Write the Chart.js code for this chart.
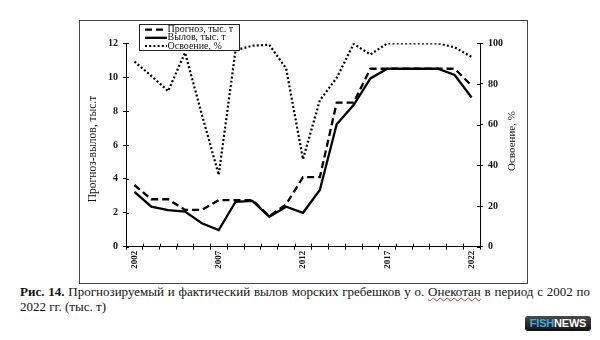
<!DOCTYPE html>
<html>
<head>
<meta charset="utf-8">
<script src="https://cdn.jsdelivr.net/npm/chart.js@4/dist/chart.umd.min.js"></script>
<style>
  html, body { margin: 0; padding: 0; background: #fff; }
  #page { position: relative; width: 600px; height: 340px; overflow: hidden; background: #fff; }
  #wrap { position: absolute; left: 79px; top: 20px; width: 448px; height: 263px; }
  #frame { position: absolute; left: 79px; top: 20px; width: 447px; height: 262px; border: 1px solid #444; pointer-events: none; }
  .cap { position: absolute; left: 20px; width: 570px; font-family: "Liberation Serif", "Times New Roman", serif; font-size: 13px; line-height: 15px; color: #111; white-space: nowrap; }
  #cap1 { top: 284px; text-align: justify; text-align-last: justify; white-space: normal; }
  #cap2 { top: 299px; }
  .sp { text-decoration: underline wavy #d33; text-decoration-thickness: 1px; }
  #logo { position: absolute; left: 525px; top: 316px; width: 66px; height: 15px; border-radius: 3px;
          background: linear-gradient(#4a4a4a, #111); font-family: "Liberation Sans", Arial, sans-serif;
          font-weight: bold; font-size: 11px; line-height: 15px; text-align: center; letter-spacing: -0.2px; }
  #logo .f { color: #3fa9e0; } #logo .n { color: #fff; }
</style>
</head>
<body>
<div id="page">
  <div id="wrap"><canvas id="c" width="448" height="263"></canvas></div>
  <div id="frame"></div>
  <div class="cap" id="cap1"><b>Рис. 14.</b> Прогнозируемый и фактический вылов морских гребешков у о. <span class="sp">Онекотан</span> в период с 2002 по</div>
  <div class="cap" id="cap2">2022 гг. (тыс. т)</div>
  <div id="logo"><span class="f">FISH</span><span class="n">NEWS</span></div>
</div>
<script>
const years = ['2002','2003','2004','2005','2006','2007','2008','2009','2010','2011','2012','2013','2014','2015','2016','2017','2018','2019','2020','2021','2022'];
const forecast = [3.64, 2.8, 2.8, 2.17, 2.17, 2.75, 2.75, 2.75, 1.8, 2.5, 4.1, 4.1, 8.5, 8.5, 10.5, 10.5, 10.5, 10.5, 10.5, 10.5, 9.5];
const catchTons = [3.24, 2.36, 2.16, 2.07, 1.38, 0.98, 2.65, 2.7, 1.77, 2.36, 2.0, 3.35, 7.22, 8.36, 9.93, 10.5, 10.5, 10.5, 10.5, 10.13, 8.8];
const utilization = [91, 84, 76.5, 95.4, 65, 35.3, 96.6, 98.8, 99.3, 87.6, 43, 72, 83, 99.7, 94.5, 100, 100, 100, 100, 98, 93.3];
const leftTitle = 'Прогноз-вылов, тыс.т';
const rightTitle = 'Освоение, %';
const seriesNames = ['Прогноз, тыс. т', 'Вылов, тыс. т', 'Освоение, %'];

const serif = '"Liberation Serif", "Times New Roman", serif';

function drawVertical(ctx, text, x, y) {
  ctx.save();
  ctx.translate(x, y);
  ctx.rotate(-Math.PI / 2);
  ctx.fillText(text, 0, 0);
  ctx.restore();
}

const innerTicks = {
  id: 'innerTicks',
  afterDraw(chart) {
    const ctx = chart.ctx;
    const x = chart.scales.x, yl = chart.scales.y, yr = chart.scales.y1;
    const mid = (chart.chartArea.top + chart.chartArea.bottom) / 2;
    ctx.save();
    ctx.strokeStyle = '#000';
    ctx.lineWidth = 1;
    ctx.beginPath();
    for (let i = 0; i <= years.length; i++) {
      const px = Math.round((x.getPixelForValue(i - 1) + x.getPixelForValue(i)) / 2) + 0.5;
      ctx.moveTo(px, x.top - 3);
      ctx.lineTo(px, x.top);
    }
    yl.ticks.forEach(t => {
      const py = Math.round(yl.getPixelForValue(t.value)) + 0.5;
      ctx.moveTo(yl.right, py); ctx.lineTo(yl.right + 3, py);
    });
    yr.ticks.forEach(t => {
      const py = Math.round(yr.getPixelForValue(t.value)) + 0.5;
      ctx.moveTo(yr.left - 3, py); ctx.lineTo(yr.left, py);
    });
    ctx.stroke();
    // axis titles, reading bottom-to-top
    ctx.fillStyle = '#111';
    ctx.textAlign = 'center';
    ctx.textBaseline = 'middle';
    ctx.font = '11.5px ' + serif;
    drawVertical(ctx, leftTitle, yl.left + 13.5, mid + 4);
    ctx.font = '11px ' + serif;
    drawVertical(ctx, rightTitle, yr.right - 14.5, mid - 4);
    ctx.restore();
  }
};

const boxLegend = {
  id: 'boxLegend',
  afterDraw(chart) {
    const ctx = chart.ctx;
    const bx = 60.5, by = 4.5, bw = 100, bh = 26;
    ctx.save();
    ctx.fillStyle = '#fff';
    ctx.fillRect(bx, by, bw, bh);
    ctx.strokeStyle = '#222';
    ctx.lineWidth = 1;
    ctx.strokeRect(bx, by, bw, bh);
    ctx.font = '10px ' + serif;
    ctx.textBaseline = 'middle';
    ctx.textAlign = 'left';
    const rows = [9.6, 17.8, 26];
    chart.data.datasets.forEach((ds, i) => {
      const y = rows[i];
      ctx.strokeStyle = ds.borderColor;
      ctx.lineWidth = ds.borderWidth;
      ctx.setLineDash(ds.borderDash || []);
      ctx.beginPath();
      ctx.moveTo(66, y); ctx.lineTo(88, y);
      ctx.stroke();
      ctx.setLineDash([]);
      ctx.fillStyle = '#111';
      ctx.fillText(ds.label, 88.5, y);
    });
    ctx.restore();
  }
};

new Chart(document.getElementById('c'), {
  type: 'line',
  data: {
    labels: years,
    datasets: [
      { label: seriesNames[0], data: forecast, yAxisID: 'y', borderColor: '#000', borderWidth: 2.3, borderDash: [7, 4], pointRadius: 0, tension: 0, fill: false },
      { label: seriesNames[1], data: catchTons, yAxisID: 'y', borderColor: '#000', borderWidth: 2.3, pointRadius: 0, tension: 0, fill: false },
      { label: seriesNames[2], data: utilization, yAxisID: 'y1', borderColor: '#000', borderWidth: 2.2, borderDash: [2, 2.2], pointRadius: 0, tension: 0, fill: false }
    ]
  },
  options: {
    responsive: false,
    animation: false,
    devicePixelRatio: 1,
    layout: { padding: { top: 23.3, left: 0, right: 0, bottom: 0 } },
    plugins: { legend: { display: false }, tooltip: { enabled: false } },
    scales: {
      x: {
        type: 'category',
        offset: true,
        grid: { display: true, offset: true, drawOnChartArea: false, drawTicks: true, tickLength: 3, color: '#000' },
        border: { display: true, color: '#000', width: 1 },
        ticks: {
          autoSkip: false, minRotation: 90, maxRotation: 90, padding: 1,
          font: { family: serif, size: 9, weight: 'bold' }, color: '#111',
          callback: function(v, i) { return i % 5 === 0 ? years[i] : ''; }
        },
        afterFit(s) { s.height = 36.3; }
      },
      y: {
        position: 'left', min: 0, max: 12,
        grid: { display: true, drawOnChartArea: false, drawTicks: true, tickLength: 3, color: '#000' },
        border: { display: true, color: '#000', width: 1 },
        ticks: { stepSize: 2, padding: 5, font: { family: serif, size: 10, weight: 'bold' }, color: '#111' },
        afterFit(s) { s.width = 47; }
      },
      y1: {
        position: 'right', min: 0, max: 100,
        grid: { display: true, drawOnChartArea: false, drawTicks: true, tickLength: 3, color: '#000' },
        border: { display: true, color: '#000', width: 1 },
        ticks: { stepSize: 20, padding: 5, font: { family: serif, size: 10, weight: 'bold' }, color: '#111' },
        afterFit(s) { s.width = 47; }
      }
    }
  },
  plugins: [innerTicks, boxLegend]
});
</script>
</body>
</html>
